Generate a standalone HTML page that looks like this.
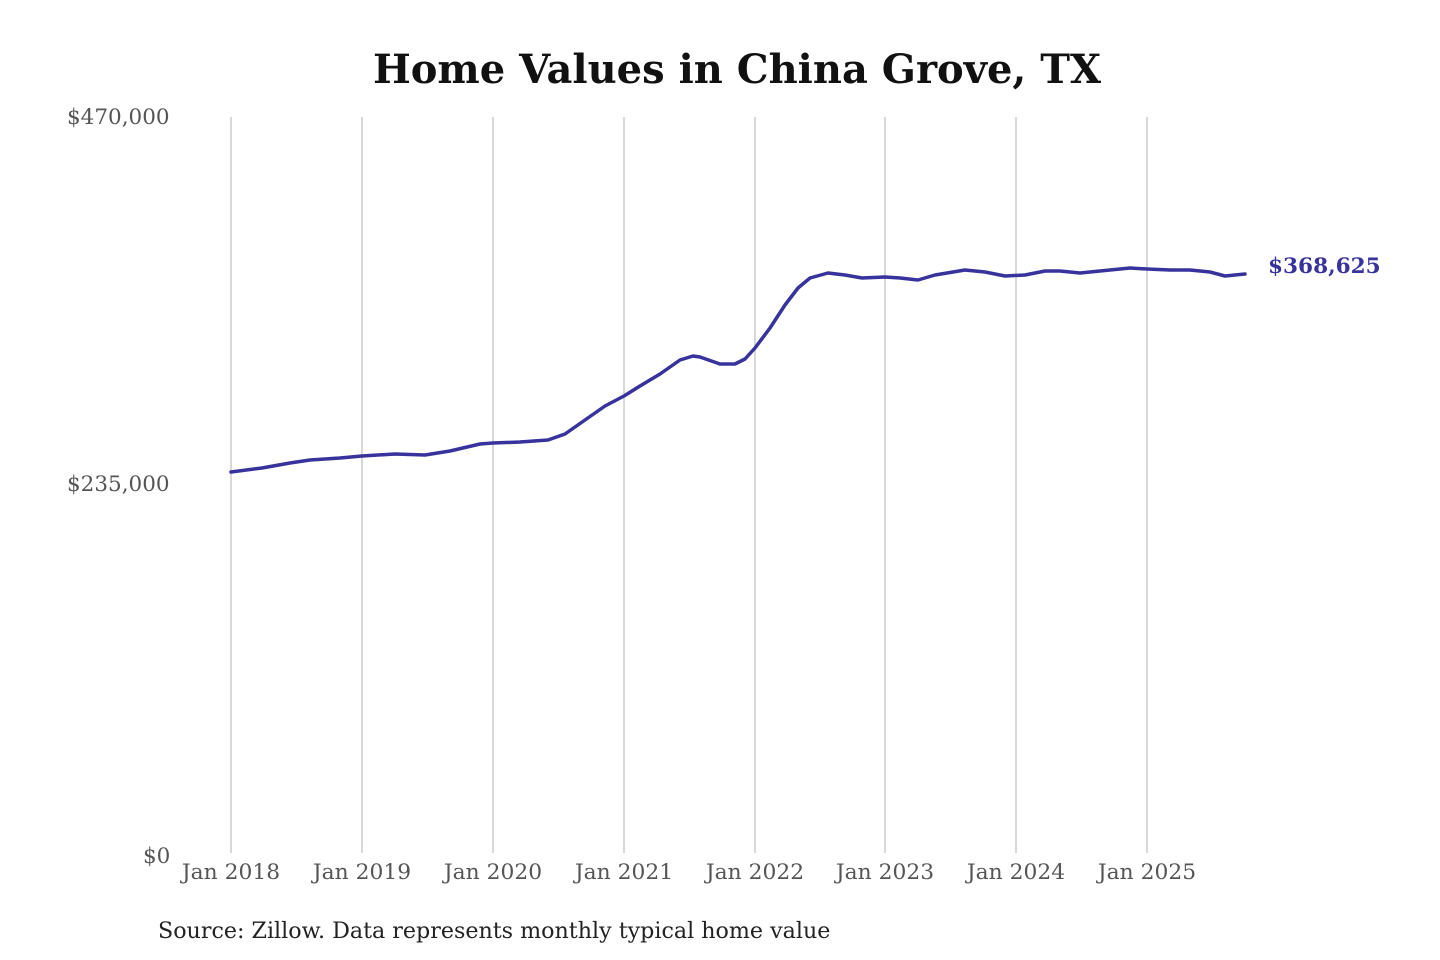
<!DOCTYPE html>
<html><head><meta charset="utf-8"><style>
html,body{margin:0;padding:0;background:#fff;width:1440px;height:960px;overflow:hidden}
svg{display:block}
</style></head><body>
<svg width="1440" height="960" viewBox="0 0 1440 960" xmlns="http://www.w3.org/2000/svg">
<text x="737" y="83" text-anchor="middle" font-family="DejaVu Serif, serif" font-weight="bold" font-size="40" fill="#111">Home Values in China Grove, TX</text>
<g stroke="#c4c4c4" stroke-width="1.3">
<line x1="231" y1="117" x2="231" y2="853"/><line x1="362" y1="117" x2="362" y2="853"/>
<line x1="493" y1="117" x2="493" y2="853"/><line x1="624" y1="117" x2="624" y2="853"/>
<line x1="755" y1="117" x2="755" y2="853"/><line x1="885" y1="117" x2="885" y2="853"/>
<line x1="1016" y1="117" x2="1016" y2="853"/><line x1="1147" y1="117" x2="1147" y2="853"/>
</g>
<g font-family="DejaVu Serif, serif" font-size="21.5" fill="#555">
<text x="67" y="124">$470,000</text>
<text x="67" y="491">$235,000</text>
<text x="143" y="863">$0</text>
</g>
<g font-family="DejaVu Serif, serif" font-size="21.8" fill="#555" text-anchor="middle">
<text x="231" y="879">Jan 2018</text><text x="362" y="879">Jan 2019</text>
<text x="493" y="879">Jan 2020</text><text x="624" y="879">Jan 2021</text>
<text x="755" y="879">Jan 2022</text><text x="885" y="879">Jan 2023</text>
<text x="1016" y="879">Jan 2024</text><text x="1147" y="879">Jan 2025</text>
</g>
<polyline fill="none" stroke="#38339c" stroke-width="3.5" stroke-linejoin="round" stroke-linecap="round" points="231,472 262,468 290,463 310,460 340,458 362,456 395,454 425,455 450,451 480,444 493,443 520,442 548,440 565,434 585,420 605,406 624,396 640,386 660,374 680,360 693,356 700,357 720,364 735,364 745,359 755,348 770,328 785,305 798,288 810,278 828,273 845,275 862,278 885,277 900,278 918,280 935,275 965,270 985,272 1005,276 1025,275 1045,271 1060,271 1080,273 1100,271 1130,268 1147,269 1170,270 1190,270 1210,272 1225,276 1245,274"/>
<text x="1268" y="273" font-family="DejaVu Serif, serif" font-weight="bold" font-size="21.6" fill="#38339c">$368,625</text>
<text x="158" y="938" font-family="DejaVu Serif, serif" font-size="22.2" fill="#222">Source: Zillow. Data represents monthly typical home value</text>
</svg>
</body></html>
